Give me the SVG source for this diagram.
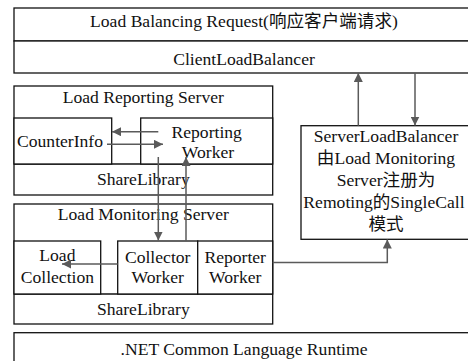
<svg xmlns="http://www.w3.org/2000/svg" width="468" height="361" viewBox="0 0 468 361">
<style>
.b{fill:#fff;stroke:#111;stroke-width:1.3}
.l{fill:none;stroke:#111;stroke-width:1.3}
.t{font-family:"Liberation Serif","Noto Sans CJK SC",serif;font-size:17.6px;fill:#111;text-anchor:middle}
.c{fill:none;stroke:#5a5a5a;stroke-width:1.5;marker-end:url(#ah)}
</style>
<defs>
<marker id="ah" markerUnits="userSpaceOnUse" markerWidth="10" markerHeight="9" refX="9" refY="4.5" orient="auto">
<path d="M0,0 L9,4.5 L0,9 z" fill="#5a5a5a"/>
</marker>
</defs>
<rect width="468" height="361" fill="#fff"/>

<g id="request">
<rect class="b" x="14" y="8" width="460" height="33"/>
<text class="t" x="244" y="27">Load Balancing Request(响应客户端请求)</text>
</g>
<g id="client">
<rect class="b" x="14" y="41" width="460" height="32"/>
<text class="t" x="244" y="65">ClientLoadBalancer</text>
</g>

<g id="reporting-server">
<rect class="b" x="14" y="86" width="258.7" height="109"/>
<text class="t" x="143.3" y="103">Load Reporting Server</text>
<line class="l" x1="14" y1="164" x2="272.7" y2="164"/>
</g>
<g id="counterinfo">
<rect class="b" x="14" y="118" width="97.7" height="46"/>
<text class="t" x="60" y="146.5">CounterInfo</text>
</g>
<g id="reporting-worker">
<rect class="b" x="140.7" y="118" width="132" height="46"/>
<text class="t" x="206.7" y="138">Reporting</text>
<text class="t" x="208" y="158">Worker</text>
</g>
<g id="sharelib-1">
<text class="t" x="143.3" y="184.5">ShareLibrary</text>
</g>

<g id="monitoring-server">
<rect class="b" x="14" y="204" width="258.7" height="120"/>
<text class="t" x="143.3" y="220">Load Monitoring Server</text>
<line class="l" x1="14" y1="294" x2="272.7" y2="294"/>
</g>
<g id="load-collection">
<rect class="b" x="14" y="241" width="86.7" height="53"/>
<text class="t" x="57.4" y="261">Load</text>
<text class="t" x="57.4" y="283">Collection</text>
</g>
<g id="collector-worker">
<rect class="b" x="117.7" y="241" width="80" height="53"/>
<text class="t" x="157.7" y="262.5">Collector</text>
<text class="t" x="157.7" y="283">Worker</text>
</g>
<g id="reporter-worker">
<rect class="b" x="197.7" y="241" width="75" height="53"/>
<text class="t" x="235.2" y="262.5">Reporter</text>
<text class="t" x="235.2" y="283">Worker</text>
</g>
<g id="sharelib-2">
<text class="t" x="143.3" y="314.5">ShareLibrary</text>
</g>

<g id="server-load-balancer">
<rect class="b" x="301" y="125.7" width="172" height="113.6"/>
<text class="t" x="386" y="141.5">ServerLoadBalancer</text>
<text class="t" x="386" y="163.5">由Load Monitoring</text>
<text class="t" x="386" y="185.5">Server注册为</text>
<text class="t" x="384" y="207.5">Remoting的SingleCall</text>
<text class="t" x="386" y="229.5">模式</text>
</g>

<g id="clr">
<rect class="b" x="14" y="332.7" width="460" height="40"/>
<text class="t" x="244" y="355">.NET Common Language Runtime</text>
</g>

<g id="connectors">
<path class="c" d="M158.3,131.7 H112"/>
<path class="c" d="M107,144.3 H163"/>
<path class="c" d="M158.3,157 V240.5"/>
<path class="c" d="M186,241 V157"/>
<path class="c" d="M117.7,264 H62"/>
<path class="c" d="M272.7,262.5 H387.3 V239.5"/>
<path class="c" d="M358.3,125.7 V73"/>
<path class="c" d="M415,73 V125.5"/>
</g>
</svg>
